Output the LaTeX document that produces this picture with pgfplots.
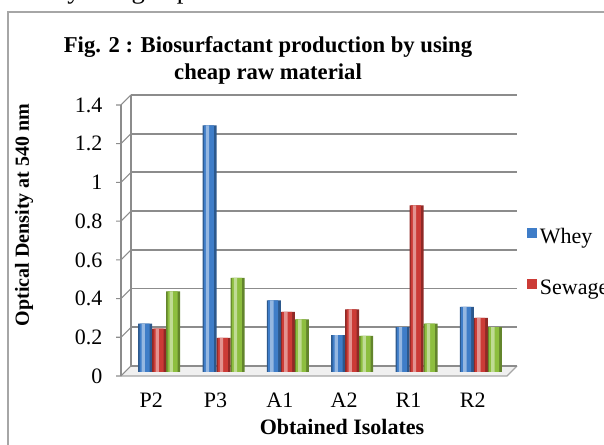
\documentclass[border=0pt]{standalone}
\usepackage{pgfplots}
\usepackage{pgfplotstable}
\pgfplotsset{compat=1.18}
\usepackage{fontspec}
\setmainfont{Liberation Serif}
\definecolor{cblue}{HTML}{3F7DC8}
\definecolor{cred}{HTML}{CC3B36}
\definecolor{cgreen}{HTML}{8DBE3F}
\definecolor{gridc}{HTML}{8C8C8C}
\pgfplotstableread{
x y
0 0.25
1 1.274
2 0.37
3 0.19
4 0.232
5 0.336
}\whey
\pgfplotstableread{
x y
0 0.224
1 0.176
2 0.31
3 0.324
4 0.861
5 0.279
}\sewage
\pgfplotstableread{
x y
0 0.417
1 0.486
2 0.272
3 0.186
4 0.25
5 0.232
}\third
\begin{document}
\begin{tikzpicture}
\path[use as bounding box] (0,0) rectangle (453pt,333.75pt);
\begin{scope}[shift={(0,333.75pt)},x=0.75pt,y=-0.75pt]
  % partial body text at top (only descenders visible)
  \node[anchor=base west,inner sep=0pt] at (67,-1) {\fontsize{20}{24}\selectfont y using exp};
  % frame
  \draw[gray!70,line width=1.2pt] (8,470)--(8,12)--(640,12);
  % floor
  \fill[gray!12] (121,376)--(507,376)--(517,366)--(131,366)--cycle;
  \draw[gray!70,line width=0.8pt] (121,376)--(507,376)--(517,366);
  % back wall grid and ticks
  \foreach \k in {0,...,7}{
    \pgfmathsetmacro{\yy}{376-\k*38.714}
    \draw[gridc,line width=1.4pt] (131,\yy-10)--(517,\yy-10);
    \draw[gridc,line width=0.8pt] (116,\yy)--(121,\yy)--(131,\yy-10);
  }
  \draw[gridc,line width=0.8pt] (121,376)--(121,105);
  \draw[gridc,line width=0.8pt] (131,366)--(131,95);
  % titles
  \node[anchor=base,inner sep=0pt] at (268,53) {\bfseries\fontsize{17}{20}\selectfont Fig. 2 : Biosurfactant production by using};
  \node[anchor=base,inner sep=0pt] at (268,80) {\bfseries\fontsize{17}{20}\selectfont cheap raw material};
  \node[anchor=base,inner sep=0pt] at (342,435) {\bfseries\fontsize{16.5}{20}\selectfont Obtained Isolates};
  \node[rotate=90,inner sep=0pt] at (24,215) {\bfseries\fontsize{15}{18}\selectfont Optical Density at 540 nm};
\end{scope}
\begin{axis}[
  at={(89.25pt,51.75pt)}, anchor=south west,
  scale only axis, width=289.5pt, height=203.25pt,
  xmin=-0.5, xmax=5.5, ymin=0, ymax=1.4,
  axis line style={draw=none}, major tick length=0pt,
  xtick={0,1,2,3,4,5}, xticklabels={P2,P3,A1,A2,R1,R2},
  ytick={0,0.2,0.4,0.6,0.8,1,1.2,1.4},
  /pgf/number format/assume math mode=true,
  tick label style={font=\fontsize{16.5}{19}\selectfont},
  yticklabel style={xshift=-9pt},
  xticklabel style={yshift=-9pt},
  ybar=0pt, clip=false,
  legend style={draw=none, fill=none, at={(1.057,0.42)}, anchor=west,
    font=\fontsize{16.5}{20}\selectfont, row sep=22pt, inner sep=0pt},
  legend cell align=left,
]
% Whey
\addplot[draw=none, yshift=3pt, fill=cblue!70!black, bar width=10.5pt, bar shift=-4.5pt,
  legend image code/.code={\fill[cblue] (0pt,-3.75pt) rectangle (7.5pt,3.75pt);}] table {\whey};
\addplot[forget plot, draw=none, yshift=3pt, fill=cblue, bar width=7.5pt, bar shift=-5pt] table {\whey};
\addplot[forget plot, draw=none, yshift=3pt, fill=cblue!55!white, bar width=2.5pt, bar shift=-6pt] table {\whey};
% Sewage
\addplot[draw=none, yshift=3pt, fill=cred!70!black, bar width=10.5pt, bar shift=6pt,
  legend image code/.code={\fill[cred] (0pt,-3.75pt) rectangle (7.5pt,3.75pt);}] table {\sewage};
\addplot[forget plot, draw=none, yshift=3pt, fill=cred, bar width=7.5pt, bar shift=5.5pt] table {\sewage};
\addplot[forget plot, draw=none, yshift=3pt, fill=cred!55!white, bar width=2.5pt, bar shift=4.5pt] table {\sewage};
% third series
\addplot[forget plot, draw=none, yshift=3pt, fill=cgreen!70!black, bar width=10.5pt, bar shift=16.5pt] table {\third};
\addplot[forget plot, draw=none, yshift=3pt, fill=cgreen, bar width=7.5pt, bar shift=16pt] table {\third};
\addplot[forget plot, draw=none, yshift=3pt, fill=cgreen!55!white, bar width=2.5pt, bar shift=15pt] table {\third};
\legend{Whey,Sewage}
\end{axis}
\end{tikzpicture}
\end{document}
